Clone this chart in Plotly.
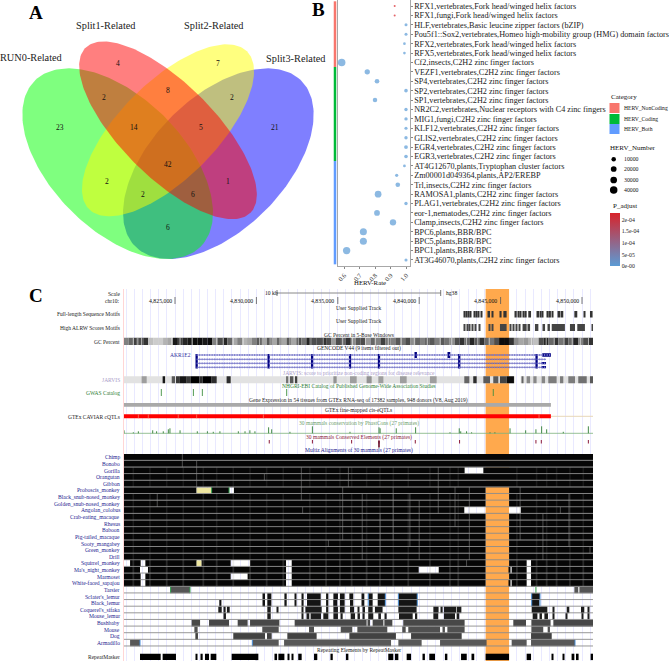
import numpy as np
import plotly.graph_objects as go

SERIF = "Liberation Serif"
W, H = 669, 661

# ---------- Panel A data ----------
VENN_SETS = ["RUN0-Related", "Split1-Related", "Split2-Related", "Split3-Related"]
VENN_COUNTS = [23, 4, 7, 21, 2, 8, 2, 14, 5, 2, 42, 1, 2, 6, 6]

# ---------- Panel B data ----------
MOTIFS = [
    "RFX1,vertebrates,Fork head/winged helix factors",
    "RFX1,fungi,Fork head/winged helix factors",
    "HLF,vertebrates,Basic leucine zipper factors (bZIP)",
    "Pou5f1::Sox2,vertebrates,Homeo high-mobility group (HMG) domain factors",
    "RFX2,vertebrates,Fork head/winged helix factors",
    "RFX5,vertebrates,Fork head/winged helix factors",
    "Cf2,insects,C2H2 zinc finger factors",
    "VEZF1,vertebrates,C2H2 zinc finger factors",
    "SP4,vertebrates,C2H2 zinc finger factors",
    "SP2,vertebrates,C2H2 zinc finger factors",
    "SP1,vertebrates,C2H2 zinc finger factors",
    "NR2C2,vertebrates,Nuclear receptors with C4 zinc fingers",
    "MIG1,fungi,C2H2 zinc finger factors",
    "KLF12,vertebrates,C2H2 zinc finger factors",
    "GLIS2,vertebrates,C2H2 zinc finger factors",
    "EGR4,vertebrates,C2H2 zinc finger factors",
    "EGR3,vertebrates,C2H2 zinc finger factors",
    "AT4G12670,plants,Tryptophan cluster factors",
    "Zm00001d049364,plants,AP2/EREBP",
    "Trl,insects,C2H2 zinc finger factors",
    "RAMOSA1,plants,C2H2 zinc finger factors",
    "PLAG1,vertebrates,C2H2 zinc finger factors",
    "eor-1,nematodes,C2H2 zinc finger factors",
    "Clamp,insects,C2H2 zinc finger factors",
    "BPC6,plants,BBR/BPC",
    "BPC5,plants,BBR/BPC",
    "BPC1,plants,BBR/BPC",
    "AT3G46070,plants,C2H2 zinc finger factors",
]
HERV_RATE = [0.927, 0.927, 1.0, 1.0, 0.99, 0.99, 0.585, 0.75, 0.813, 1.0, 0.80, 1.0, 1.0, 1.0,
             1.0, 1.0, 1.0, 0.99, 0.94, 0.947, 0.82, 1.0, 0.813, 0.916, 0.725, 0.725, 0.617, 1.0]
HERV_NUMBER = [300, 300, 2500, 2500, 1500, 1500, 40000, 16000, 11000, 5000, 10000, 4000, 4000, 3000,
               4000, 6000, 5000, 1800, 3000, 11000, 30000, 4000, 20000, 26000, 34000, 34000, 38000, 3000]
P_ADJUST = [2.3e-4, 2.3e-4] + [0.0] * 26
CATEGORY_CODE = [0] * 7 + [1] * 10 + [2] * 11
CATEGORY_NAMES = ["HERV_NonCoding", "HERV_Coding", "HERV_Both"]
CATEGORY_COLORS = ["#F8766D", "#00BA38", "#619CFF"]
SIZE_LEGEND = [10000, 20000, 30000, 40000]

# ---------- Panel C data (positions on chr10, in kb) ----------
GC_DARKNESS = [.5, .6, .75, .7, .8, .25, .2, .2, .3, .35, .9, .75, .85, .9, .95, .95, .9, .95, .5, .7, .85, .6,
               .35, .5, .3, .35, .5, .65, .35, .65, .35, .6, .35, .65, .35, .7, .55, .85, .7, .7, .8, .7, .4, .7,
               .6, .8, .45, .65, .7, .4, .6, .5, .75, .55, .5, .65, .55, .7, .45, .6, .5, .6, .65, .5, .65, .55,
               .45, .7, .8, .6, .85, .65, .8, .6, .55, .7, .95, .95, .8, .45, .35, .4, .3, .25, .7, .85, .6, .8,
               .55, .75, .6, .85, .5, .7, .8]
GC_LIGHT_LINES = [4822.44, 4822.68, 4822.95, 4824.8, 4825.31, 4826.05, 4827.56, 4827.97, 4828.58, 4829.19, 4830.2,
                  4830.84, 4831.45, 4832.06, 4832.57, 4833.3, 4834.1, 4835.3, 4835.9, 4836.7, 4837.3, 4838.1, 4838.9,
                  4839.7, 4840.5, 4841.3, 4842.0, 4842.9, 4843.6, 4844.3, 4846.9, 4847.8, 4848.3, 4848.9, 4849.4,
                  4849.9, 4850.4]
MOTIFS_FULL = [(4842.77, 4842.83), (4842.89, 4842.95), (4843.02, 4843.08), (4843.14, 4843.2), (4843.36, 4843.42),
               (4843.49, 4843.55), (4843.61, 4843.67), (4843.77, 4843.84), (4844.25, 4844.35), (4844.45, 4844.55),
               (4844.96, 4845.06), (4845.17, 4845.37), (4845.88, 4845.99), (4846.05, 4846.11), (4846.19, 4846.27),
               (4846.35, 4846.42), (4846.5, 4846.6), (4846.7, 4846.87), (4847.26, 4847.36), (4847.42, 4847.48),
               (4847.56, 4847.62), (4847.83, 4847.93), (4847.99, 4848.09), (4848.16, 4848.24), (4848.55, 4848.65),
               (4848.73, 4848.85), (4849.53, 4849.71), (4850.12, 4850.18), (4850.49, 4850.65)]
MOTIFS_ALRW = [(4842.77, 4842.83), (4842.91, 4842.97), (4843.06, 4843.12), (4843.22, 4843.28), (4843.43, 4843.49),
               (4843.67, 4843.75), (4844.27, 4844.35), (4844.45, 4844.55), (4844.96, 4845.37), (4845.58, 4845.64),
               (4845.74, 4845.82), (4845.95, 4846.03), (4846.13, 4846.19), (4846.35, 4846.6), (4846.7, 4846.81),
               (4847.11, 4847.32), (4847.62, 4847.73), (4847.93, 4848.03), (4848.14, 4848.95), (4849.26, 4849.57),
               (4849.71, 4850.18), (4850.59, 4850.65)]
EXONS_ALL = [4826.33, 4830.75, 4833.42, 4835.75, 4837.53, 4842.46, 4847.21]
EXONS_TOP_ONLY = [4839.80, 4841.85]
JARVIS_DARK = [(4822.95, 4823.26, .3), (4824.24, 4824.39, .9), (4824.8, 4825.0, .6), (4825.06, 4825.3, .75),
               (4825.3, 4825.72, .9), (4825.72, 4825.95, .75), (4825.95, 4826.5, 1.0), (4826.5, 4826.7, .8),
               (4826.7, 4827.25, 1.0), (4827.25, 4827.56, .8), (4828.17, 4828.42, .8), (4831.82, 4831.96, .5),
               (4832.06, 4832.27, .6), (4832.37, 4832.51, .7), (4834.73, 4834.93, .35), (4835.75, 4836.16, .3),
               (4836.77, 4837.08, .35), (4837.49, 4837.8, .3), (4838.82, 4839.23, .3), (4840.66, 4841.07, .3),
               (4842.77, 4843.08, .55), (4843.32, 4843.53, .8), (4843.94, 4844.35, .6), (4844.55, 4844.86, .6),
               (4844.96, 4845.37, .7), (4845.37, 4845.82, .95), (4846.29, 4846.4, .55), (4846.6, 4846.81, .4),
               (4847.01, 4847.21, .4), (4847.52, 4847.73, .4), (4847.93, 4848.44, .45), (4848.65, 4848.85, .45),
               (4849.16, 4849.57, .45), (4849.77, 4850.29, .5), (4850.49, 4850.7, .6)]
JARVIS_GAP = (4845.90, 4846.23)
GWAS_SITES = [4824.16, 4826.13, 4826.68, 4831.86, 4844.55]
CAVIAR_LIGHT = [4822.75, 4823.36, 4825.2, 4826.33, 4830.43, 4847.36]
GTEX_END = 4848.09
PHASTCONS_POS = [4821.87, 4822.44, 4822.75, 4823.63, 4823.87, 4824.28, 4824.59, 4824.69, 4825.31, 4826.37, 4826.99,
                 4827.35, 4827.76, 4828.89, 4829.3, 4829.6, 4829.91, 4830.75, 4830.94, 4832.06, 4833.44, 4835.75,
                 4837.53, 4837.6, 4838.59, 4839.78, 4841.89, 4842.46, 4842.55, 4842.91, 4843.22, 4844.35, 4844.65,
                 4845.58, 4846.54, 4847.17, 4847.52, 4847.83, 4848.85, 4850.39]
PHASTCONS_SCORE = [3, 1, 2, 3, 2, 2, 4, 5, 3, 2, 2, 1.5, 2, 2, 2, 3, 2, 6, 4, 1.5, 7, 1.5, 6, 5, 5, 6, 1, 5, 2, 2, 1,
                   1, 1, 5, 3, 4, 7, 4, 1.5, 7]
PHAST_ELEMENTS = [4830.79, 4833.44, 4835.85, 4837.53, 4839.76, 4842.48, 4847.17, 4847.50, 4850.39]

SPECIES = ["Chimp", "Bonobo", "Gorilla", "Orangutan", "Gibbon", "Proboscis_monkey", "Black_snub-nosed_monkey",
           "Golden_snub-nosed_monkey", "Angolan_colobus", "Crab-eating_macaque", "Rhesus", "Baboon",
           "Pig-tailed_macaque", "Sooty_mangabey", "Green_monkey", "Drill", "Squirrel_monkey", "Ma's_night_monkey",
           "Marmoset", "White-faced_sapajou", "Tarsier", "Sclater's_lemur", "Black_lemur", "Coquerel's_sifaka",
           "Mouse_lemur", "Bushbaby", "Mouse", "Dog", "Armadillo"]
HILITE = (4844.08, 4845.52)
GAPS_GORILLA = [(4842.79, 4843.94)]
GAPS_PROBOSCIS = [(4826.33, 4827.25), (4828.32, 4828.62)]
GAPS_ANGOLAN = [(4842.77, 4846.24)]
GAPS_SQUIRREL = [(4821.83, 4822.24), (4822.89, 4823.18), (4826.33, 4826.62), (4828.42, 4829.61), (4831.82, 4832.17),
                 (4846.6, 4846.87)]
GAPS_NIGHT = [(4822.85, 4823.34), (4831.82, 4832.17), (4839.97, 4841.2), (4845.58, 4845.68), (4846.6, 4846.87)]
GAPS_MARMOSET = [(4822.89, 4823.18), (4828.42, 4829.46), (4831.82, 4832.17), (4846.6, 4846.87)]
GAPS_SAPAJOU = [(4822.89, 4823.18), (4831.82, 4832.17), (4845.58, 4845.68), (4846.6, 4846.87)]
PALE_YELLOW_PROBOSCIS = [(4826.33, 4827.25)]
PALE_YELLOW_SQUIRREL = [(4826.33, 4826.62)]

ALIGN_TARSIER = [(4824.73, 4825.92), (4849.53, 4849.77), (4849.84, 4850.7)]
ALIGN_SCLATER = [(4830.41, 4830.53), (4830.67, 4830.92), (4831.72, 4831.86), (4832.37, 4832.43), (4832.82, 4832.9),
                 (4833.11, 4833.95), (4834.28, 4834.42), (4834.73, 4835.01), (4835.13, 4835.42), (4835.71, 4835.95),
                 (4836.51, 4836.63), (4836.87, 4837.14), (4837.45, 4837.92), (4838.72, 4839.88), (4846.91, 4847.42)]
ALIGN_BLACK = [(4827.72, 4827.85), (4830.41, 4830.53), (4830.67, 4830.92), (4831.72, 4831.86), (4832.37, 4832.43),
               (4832.82, 4832.9), (4833.11, 4833.95), (4834.28, 4834.42), (4834.72, 4834.97), (4835.13, 4835.42),
               (4835.75, 4835.95), (4836.51, 4836.63), (4836.92, 4837.14), (4837.45, 4837.9), (4838.72, 4839.88),
               (4846.91, 4847.38)]
ALIGN_COQUEREL = [(4827.66, 4827.87), (4827.99, 4828.11), (4828.19, 4828.36), (4830.67, 4830.88), (4831.24, 4831.35),
                  (4832.78, 4832.88), (4833.01, 4834.01), (4834.28, 4834.42), (4834.73, 4835.01), (4835.13, 4835.42),
                  (4835.75, 4836.0), (4836.22, 4836.32), (4836.57, 4836.67), (4836.87, 4837.14), (4837.28, 4837.75),
                  (4838.72, 4839.84), (4840.87, 4841.19), (4841.34, 4841.44), (4841.52, 4842.26), (4842.3, 4842.59),
                  (4846.91, 4847.87), (4848.24, 4848.3), (4849.06, 4849.22), (4849.94, 4850.14), (4850.35, 4850.45)]
ALIGN_MOUSE_LEMUR = [(4828.01, 4828.13), (4830.67, 4830.88), (4832.78, 4832.88), (4833.13, 4833.25), (4833.33, 4833.97),
                     (4834.11, 4834.42), (4834.73, 4835.01), (4835.18, 4835.3), (4835.79, 4836.06), (4836.26, 4836.36),
                     (4836.57, 4836.65), (4836.87, 4837.18), (4837.49, 4837.65), (4837.9, 4838.0), (4838.76, 4839.6),
                     (4839.74, 4839.88), (4840.87, 4841.17), (4841.52, 4842.2), (4842.3, 4842.46), (4846.97, 4847.26),
                     (4847.42, 4847.54), (4847.69, 4847.91), (4848.24, 4848.3), (4849.0, 4849.1), (4849.98, 4850.08),
                     (4850.35, 4850.45)]
ALIGN_BUSHBABY = [(4826.02, 4826.54), (4827.09, 4828.32), (4828.85, 4829.46), (4829.61, 4831.41), (4832.35, 4836.77),
                  (4836.87, 4836.98), (4837.14, 4837.8), (4837.86, 4838.35), (4839.02, 4842.79), (4845.78, 4846.56),
                  (4846.89, 4848.07), (4848.24, 4850.7)]
ALIGN_MOUSE = [(4826.19, 4826.39), (4830.36, 4831.37), (4833.23, 4833.54), (4835.18, 4835.89), (4836.2, 4838.04),
               (4838.96, 4839.17), (4839.33, 4841.28), (4841.48, 4841.58), (4841.73, 4842.79), (4846.89, 4847.62),
               (4847.89, 4848.03)]
ALIGN_DOG = [(4826.25, 4826.41), (4828.58, 4830.53), (4830.65, 4830.94), (4831.9, 4833.7), (4835.71, 4838.57),
             (4839.5, 4842.61), (4846.87, 4848.14)]
ALIGN_ARMADILLO = [(4822.24, 4822.85), (4829.75, 4831.37), (4831.7, 4838.27), (4838.72, 4840.15),
                   (4841.28, 4844.14), (4845.68, 4846.6), (4846.87, 4849.57)]
REPEATMASKER = [(4822.85, 4824.12), (4824.24, 4825.06), (4826.29, 4826.35), (4826.62, 4826.7), (4826.84, 4827.09),
                (4827.19, 4827.54), (4828.48, 4830.12), (4831.11, 4831.27), (4831.35, 4831.72), (4831.96, 4832.02),
                (4832.2, 4832.27), (4832.57, 4832.78), (4833.54, 4833.74), (4834.55, 4834.69), (4835.5, 4835.65),
                (4838.1, 4838.41), (4838.51, 4838.72), (4839.23, 4839.5), (4840.25, 4840.35),
                (4840.62, 4840.97), (4841.58, 4841.73), (4842.57, 4842.92), (4843.26, 4843.38), (4844.08, 4845.52),
                (4846.6, 4846.87), (4848.14, 4848.24), (4848.81, 4848.92), (4849.36, 4849.53), (4849.63, 4849.79),
                (4850.53, 4850.7)]
STREAK_POS = [4825.45, 4826.33, 4832.76, 4830.49, 4823.91, 4832.84, 4834.42, 4843.08, 4839.43, 4841.17, 4835.65,
              4848.67, 4850.49, 4842.91, 4835.3, 4836.5, 4837.6, 4838.4, 4840.0, 4842.2, 4846.2, 4847.6, 4849.2]
STREAK_FIRST = [0, 1, 2, 3, 6, 8, 13, 5, 6, 2, 2, 8, 14, 16, 5, 6, 9, 5, 7, 5, 5, 9, 6]
STREAK_LAST = [1, 5, 6, 3, 7, 8, 13, 15, 13, 8, 4, 8, 14, 16, 12, 15, 14, 12, 15, 10, 12, 15, 13]
TEXTURE_POS = [4822.44, 4823.46, 4824.49, 4825.51, 4826.74, 4827.56, 4828.58, 4829.61, 4830.63, 4831.65, 4833.28,
               4834.28, 4835.13, 4835.85, 4836.77, 4837.59, 4838.41, 4839.33, 4840.66, 4841.89, 4842.4, 4846.0,
               4847.21, 4847.83, 4848.44, 4849.26, 4850.08]
BLUE_EDGES_ARMADILLO = [4822.85, 4829.75, 4849.57]
BLUE_EDGES_LEMUR = [4836.87, 4837.92, 4838.72, 4839.88, 4846.91, 4847.42]
GREEN_EDGES_TARSIER = [4824.73, 4825.92, 4847.17]
GREEN_EDGES_PROBOSCIS = [4827.25, 4828.32]

# ---------- helpers ----------
ann = []


def px_text(x, y, text, size=6, color="#111", anchor="left", family=SERIF, bold=False):
    ann.append(dict(x=x, y=y, xref="x", yref="y", text=f"<b>{text}</b>" if bold else text, showarrow=False,
                    xanchor=anchor, yanchor="middle", xshift=0, yshift=0,
                    font=dict(family=family, size=size, color=color)))


fig = go.Figure()

# ---------- Panel A ----------
ELLIPSE_COLORS = ["rgba(0,0,255,0.5)", "rgba(0,255,0,0.5)", "rgba(255,255,0,0.5)", "rgba(255,0,0,0.5)"]
ELLIPSE_GEOM = [(655 / 3, 491 / 3, 352 / 3, 199 / 3, 45), (353 / 3, 491 / 3, 352 / 3, 199 / 3, -45),
                (504 / 3, 391 / 3, 335 / 3, 145 / 3, 45), (504 / 3, 391 / 3, 350 / 3, 140 / 3, -45)]
theta = np.linspace(0, 2 * np.pi, 200)
for col, (cx, cy, a, b, ang) in zip(ELLIPSE_COLORS, ELLIPSE_GEOM):
    r = np.radians(ang)
    ex = cx + a * np.cos(theta) * np.cos(r) + b * np.sin(theta) * np.sin(r)
    ey = cy - a * np.cos(theta) * np.sin(r) + b * np.sin(theta) * np.cos(r)
    fig.add_trace(go.Scatter(x=ex, y=ey, mode="lines", fill="toself", fillcolor=col, line=dict(width=0),
                             hoverinfo="skip", showlegend=False, xaxis="x", yaxis="y"))
VENN_LABEL_XY = [(181, 382), (353, 190), (655, 190), (825, 382), (313, 291), (504, 271), (695, 291), (403, 382),
                 (604, 382), (322, 543), (504, 493), (685, 543), (428, 583), (580, 583), (504, 683)]
for n, (zx, zy) in zip(VENN_COUNTS, VENN_LABEL_XY):
    px_text(zx / 3, zy / 3, str(n), size=7.5, anchor="center")
for t, (x, y) in zip(VENN_SETS, [(31, 57.5), (106, 25.5), (213.5, 25.5), (295.5, 58)]):
    px_text(x, y, t, size=10.3, anchor="center", color="#222")
px_text(36, 12, "A", size=19, anchor="center", bold=True, color="#000")
px_text(318, 9, "B", size=19, anchor="center", bold=True, color="#000")
px_text(36, 295, "C", size=19, anchor="center", bold=True, color="#000")

# ---------- Panel B ----------
row_idx = list(range(len(MOTIFS)))
diam = [1.5 + 6 * np.sqrt(n / 40000) for n in HERV_NUMBER]
PCOLORS = [[0, "#5B9BD5"], [1, "#D8232A"]]
fig.add_trace(go.Scatter(
    x=HERV_RATE, y=row_idx, mode="markers", xaxis="x2", yaxis="y2", hoverinfo="skip", showlegend=False,
    marker=dict(size=diam, color=P_ADJUST, colorscale=PCOLORS, cmin=0, cmax=2.3e-4, line=dict(width=0),
                colorbar=dict(thickness=10, thicknessmode="pixels", len=52.5, lenmode="pixels", x=609.5 / W,
                              xanchor="left", xpad=0, ypad=0, y=1 - 266 / H, yanchor="bottom", outlinewidth=0,
                              tickvals=[0, 5e-5, 1e-4, 1.5e-4, 2e-4],
                              ticktext=["0e-00", "5e-05", "1e-04", "1.5e-04", "2e-04"], ticks="",
                              tickfont=dict(family=SERIF, size=5.8, color="#222")))))
fig.add_trace(go.Heatmap(z=[[c] for c in CATEGORY_CODE], x=[0], y=row_idx, xaxis="x4", yaxis="y4", showscale=False,
                         zmin=0, zmax=2, hoverinfo="skip",
                         colorscale=[[0, CATEGORY_COLORS[0]], [0.33, CATEGORY_COLORS[0]], [0.33, CATEGORY_COLORS[1]],
                                     [0.67, CATEGORY_COLORS[1]], [0.67, CATEGORY_COLORS[2]], [1, CATEGORY_COLORS[2]]]))

px_text(608.5, 96.5, "Category", size=7)
for name, col, y in zip(CATEGORY_NAMES, CATEGORY_COLORS, [108, 119, 129]):
    fig.add_trace(go.Scatter(x=[614.5], y=[y], mode="markers", marker=dict(symbol="square", size=10, color=col),
                             hoverinfo="skip", showlegend=False, xaxis="x", yaxis="y"))
    px_text(622, y, name, size=5.6)
px_text(608, 148, "HERV_Number", size=7)
for n, y in zip(SIZE_LEGEND, [159.3, 169, 180, 190]):
    fig.add_trace(go.Scatter(x=[613.7], y=[y], mode="markers",
                             marker=dict(size=1.5 + 6 * np.sqrt(n / 40000), color="black"),
                             hoverinfo="skip", showlegend=False, xaxis="x", yaxis="y"))
    px_text(622, y, str(n), size=5.8)
px_text(610.5, 206, "P_adjust", size=7)
px_text(370, 282, "HERV-Rate", size=6.8, anchor="center")


# ---------- Panel C ----------
def hbars(iv, y, h, color):
    if not iv:
        return
    fig.add_trace(go.Bar(orientation="h", base=[s for s, e in iv], x=[e - s for s, e in iv], y=[y] * len(iv),
                         width=h, marker=dict(color=color, line=dict(width=0)), hoverinfo="skip", showlegend=False,
                         xaxis="x3", yaxis="y3"))


def vlines(xs, y0s, y1s, color, width=1):
    X, Y = [], []
    for x, a, b in zip(xs, y0s, y1s):
        X += [x, x, None]
        Y += [a, b, None]
    fig.add_trace(go.Scatter(x=X, y=Y, mode="lines", line=dict(color=color, width=width), hoverinfo="skip",
                             showlegend=False, xaxis="x3", yaxis="y3", connectgaps=False))


def hline(x0, x1, y, color, width=1, dash=None):
    fig.add_trace(go.Scatter(x=[x0, x1], y=[y, y], mode="lines", line=dict(color=color, width=width, dash=dash),
                             hoverinfo="skip", showlegend=False, xaxis="x3", yaxis="y3"))


KB0, KB1 = 4825 + (123.5 - 175) / 16.28, 4825 + (593 - 175) / 16.28
ROW_TOP, ROW_H = 454.0, 6.63
LINE_BLUE = "#2B2BA0"
NAVY = "#000080"

# highlight band first, so every track draws over it
hbars([HILITE], (289 + H) / 2, H - 289, "#FFA94D")
# motifs
hbars(MOTIFS_FULL, 314.3, 6.6, "#333333")
hbars(MOTIFS_ALRW, 327.5, 6.8, "#444444")
# GC percent strip
n_gc = len(GC_DARKNESS)
dgc = (KB1 - KB0) / n_gc
fig.add_trace(go.Bar(orientation="h", base=[KB0 + dgc * i for i in range(n_gc)], x=[dgc] * n_gc, y=[341.4] * n_gc,
                     width=7.4, hoverinfo="skip", showlegend=False, xaxis="x3", yaxis="y3",
                     marker=dict(line=dict(width=0), cmin=0, cmax=1, color=GC_DARKNESS,
                                 colorscale=[[0, "#FFFFFF"], [1, "#000000"]])))
vlines(GC_LIGHT_LINES, [337.7] * len(GC_LIGHT_LINES), [345.1] * len(GC_LIGHT_LINES), "rgba(235,235,235,0.75)", 0.9)
# gene
for y in [355, 359.3, 363.3, 367.3]:
    end = 4848.09 if y == 355 else 4847.79
    hline(4826.33, end, y, LINE_BLUE, 0.6)
    hline(4826.33, end, y, "#7C7CD0", 1.8, dash="1px,1.5px")
hbars([(x - .07, x + .07) for x in EXONS_ALL], 361.2, 14.5, NAVY)
hbars([(x - .06, x + .06) for x in EXONS_TOP_ONLY], 355, 6, NAVY)
hbars([(4847.56, 4848.09)], 355, 3.6, NAVY)
hbars([(4847.52, 4847.79)], 363.3, 1.8, NAVY)
hbars([(4847.52, 4847.79)], 367.3, 1.8, NAVY)
# JARVIS
hbars([(KB0, JARVIS_GAP[0]), (JARVIS_GAP[1], KB1)], 379.8, 7, "#E2E2E2")
for s, e, d in JARVIS_DARK:
    g = int(226 * (1 - d))
    hbars([(s, e)], 379.8, 7, f"rgb({g},{g},{g})")
# GWAS
vlines(GWAS_SITES, [389] * 5, [396] * 5, "#3E8E41", 0.9)
# GTEx
hbars([(KB0, GTEX_END)], 404.9, 3.8, "#A9A9A9")
hline(GTEX_END, KB1, 416.3, "#E8D8B8", 1)
hbars([(KB0, GTEX_END)], 416.3, 4, "#FF0000")
vlines(CAVIAR_LIGHT, [414.3] * 6, [418.3] * 6, "#F08A70", 0.7)
# PhastCons
hline(KB0, KB1, 433.3, "#7CB27C", 0.8)
vlines(PHASTCONS_POS, [433.3] * len(PHASTCONS_POS), [433.3 - s for s in PHASTCONS_SCORE], "#2E7D32", 0.9)
# PhastCons elements
vlines(PHAST_ELEMENTS, [440] * 9, [443.5] * 9, "#8B1A3A", 1)
vlines([4837.53], [441], [447.5], "#6A0F2A", 1.6)

# Multiz rows
ROW_GAPS = {2: GAPS_GORILLA, 5: GAPS_PROBOSCIS + [HILITE], 8: GAPS_ANGOLAN, 16: GAPS_SQUIRREL + [HILITE],
            17: GAPS_NIGHT + [HILITE], 18: GAPS_MARMOSET + [HILITE], 19: GAPS_SAPAJOU + [HILITE]}
for i in range(20):
    gaps = sorted(ROW_GAPS.get(i, [HILITE] if i >= 5 else []))
    segs, cur = [], KB0
    for s, e in gaps:
        if s > cur:
            segs.append((cur, s))
        cur = max(cur, e)
    segs.append((cur, KB1))
    hbars(segs, ROW_TOP + ROW_H * (i + .5), ROW_H, "#060606")
hbars(PALE_YELLOW_PROBOSCIS, ROW_TOP + ROW_H * 5.5, ROW_H - 1, "#EFE7A0")
hbars(PALE_YELLOW_SQUIRREL, ROW_TOP + ROW_H * 16.5, ROW_H - 1, "#EFE7A0")
LOWER = [(20, ALIGN_TARSIER, "#555555"), (21, ALIGN_SCLATER, "#141414"), (22, ALIGN_BLACK, "#141414"),
         (23, ALIGN_COQUEREL, "#1C1C1C"), (24, ALIGN_MOUSE_LEMUR, "#1C1C1C"), (25, ALIGN_BUSHBABY, "#484848"),
         (26, ALIGN_MOUSE, "#505050"), (27, ALIGN_DOG, "#424242"), (28, ALIGN_ARMADILLO, "#585858")]
for i, iv, col in LOWER:
    hbars(iv, ROW_TOP + ROW_H * (i + .5), ROW_H, col)
n_tex = len(TEXTURE_POS)
vlines(TEXTURE_POS, [ROW_TOP + ROW_H * 2] * n_tex, [ROW_TOP + ROW_H * 5] * n_tex, "rgba(170,170,170,0.12)", 1.6)
vlines(TEXTURE_POS, [ROW_TOP + ROW_H * 6] * n_tex, [ROW_TOP + ROW_H * 16] * n_tex, "rgba(170,170,170,0.14)", 1.6)
vlines(TEXTURE_POS, [ROW_TOP + ROW_H * 16] * n_tex, [ROW_TOP + ROW_H * 20] * n_tex, "rgba(170,170,170,0.22)", 1.8)
vlines(STREAK_POS, [ROW_TOP + ROW_H * a for a in STREAK_FIRST], [ROW_TOP + ROW_H * (b + 1) for b in STREAK_LAST],
       "rgba(170,170,170,0.55)", 0.8)
for xs, row, col in [(BLUE_EDGES_ARMADILLO, 28, "#4A90D9"), (BLUE_EDGES_LEMUR, 21, "#4A90D9"),
                     (BLUE_EDGES_LEMUR, 22, "#4A90D9"), (GREEN_EDGES_TARSIER, 20, "#2E9E4A"),
                     (GREEN_EDGES_PROBOSCIS, 5, "#2E9E4A")]:
    vlines(xs, [ROW_TOP + ROW_H * row] * len(xs), [ROW_TOP + ROW_H * (row + 1)] * len(xs), col, 1)
for i in range(29):
    hline(KB0, KB1, ROW_TOP + ROW_H * (i + 1) - 0.3, "#8C8C8C", 0.9)
hbars(REPEATMASKER, 656.9, 6.4, "#000000")

# Browser decorations
hline(4825 + (277 - 175) / 16.28, 4825 + (440.7 - 175) / 16.28, 293, "#888888", 1)
for t, x in zip(["4,825,000", "4,830,000", "4,835,000", "4,840,000", "4,845,000", "4,850,000"],
                [175, 256, 337.3, 419.3, 500.7, 582]):
    px_text(x - 1.5, 300.7, t, size=5.8, anchor="right")
vlines([4825, 4830, 4835, 4840, 4845, 4850], [297] * 6, [304] * 6, "#555555", 0.8)
vlines([4825 + (277 - 175) / 16.28, 4825 + (440.7 - 175) / 16.28], [290, 290], [296, 296], "#555555", 0.8)
px_text(263, 293, "10 kb", size=5.6)
px_text(443.5, 293, "hg38", size=5.6)
LEFT_LABELS = [("Scale", 293.5), ("chr10:", 300.7), ("Full-length Sequence Motifs", 314.3),
               ("High ALRW Scores Motifs", 328), ("GC Percent", 342), ("GTEx CAVIAR cQTLs", 417)]
for t, y in LEFT_LABELS:
    px_text(122, y, t, size=5.5, anchor="right", color="#222")
px_text(122, 379.7, "JARVIS", size=5.5, anchor="right", color="#A99CC8")
px_text(122, 393, "GWAS Catalog", size=5.5, anchor="right", color="#2E7D32")
px_text(193, 355, "AKR1E2", size=5.5, anchor="right", color=LINE_BLUE)
for i, s in enumerate(SPECIES):
    px_text(122, ROW_TOP + ROW_H * (i + .5), s, size=5.6, anchor="right", color="#24248F")
px_text(122, 657, "RepeatMasker", size=5.5, anchor="right", color="#222")
HEADERS = [("User Supplied Track", 358.5, 307.7, "#222"), ("User Supplied Track", 358.5, 321, "#222"),
           ("GC Percent in 5-Base Windows", 358.5, 334.7, "#222"),
           ("GENCODE V44 (9 items filtered out)", 358.5, 348, "#222"),
           ("JARVIS: score to prioritize non-coding regions for disease relevance", 358.5, 372.7, "#A99CC8"),
           ("NHGRI-EBI Catalog of Published Genome-Wide Association Studies", 358.5, 386.3, "#2E7D32"),
           ("Gene Expression in 54 tissues from GTEx RNA-seq of 17382 samples, 948 donors (V8, Aug 2019)", 358.5, 400,
            "#222"),
           ("GTEx fine-mapped cis-eQTLs", 358.5, 410, "#222"),
           ("30 mammals conservation by PhastCons (27 primates)", 358.5, 423.7, "#6DA06D"),
           ("30 mammals Conserved Elements (27 primates)", 358.5, 437.3, "#8B1A3A"),
           ("Multiz Alignments of 30 mammals (27 primates)", 358.5, 450.7, "#24248F"),
           ("Repeating Elements by RepeatMasker", 358.5, 650.3, "#222")]
for t, x, y, c in HEADERS:
    px_text(x, y, t, size=5.5, anchor="center", color=c)

# ---------- layout ----------
GRID = "#E9E9FF"
page = dict(range=[0, W], domain=[0, 1], visible=False, fixedrange=True)
fig.update_layout(
    width=W, height=H, margin=dict(l=0, r=0, t=0, b=0, autoexpand=False), autosize=False, paper_bgcolor="white",
    plot_bgcolor="rgba(0,0,0,0)", barmode="overlay", showlegend=False, annotations=ann,
    xaxis=dict(**page, anchor="y"),
    yaxis=dict(range=[H, 0], domain=[0, 1], visible=False, anchor="x"),
    xaxis2=dict(domain=[338 / W, 409.5 / W], range=[0.6 + (338 - 344) / 155, 0.6 + (409.5 - 344) / 155],
                anchor="y2", showline=True, mirror=True, linecolor="#A8A8A8", linewidth=1, showgrid=False,
                zeroline=False, tickvals=[0.6, 0.7, 0.8, 0.9, 1.0], ticktext=["0.6", "0.7", "0.8", "0.9", "1.0"],
                tickangle=-50, ticks="outside", ticklen=2, tickcolor="#888",
                tickfont=dict(family=SERIF, size=6.5, color="#333")),
    yaxis2=dict(domain=[1 - 266 / H, 1], range=[27.64, -0.64], anchor="x2", side="right", showline=True, mirror=True,
                linecolor="#A8A8A8", linewidth=1, showgrid=False, zeroline=False, tickvals=row_idx, ticktext=MOTIFS,
                ticks="outside", ticklen=2, tickcolor="#888", tickfont=dict(family=SERIF, size=8.2, color="#222")),
    xaxis4=dict(domain=[333.5 / W, 336.5 / W], visible=False, anchor="y4", range=[-0.5, 0.5]),
    yaxis4=dict(domain=[1 - 266 / H, 1], range=[27.64, -0.64], visible=False, anchor="x4"),
    xaxis3=dict(domain=[123.5 / W, 593 / W], range=[KB0, KB1], anchor="y3", showgrid=True, gridcolor=GRID,
                gridwidth=1, tick0=4825, dtick=0.5, tickmode="linear", showticklabels=False, ticks="",
                zeroline=False, showline=False),
    yaxis3=dict(domain=[0, 1 - 289 / H], range=[H, 289], anchor="x3", showgrid=False, zeroline=False,
                showticklabels=False, ticks="", showline=True, linecolor="#FFD6D6", linewidth=1),
)
fig.write_html("out.html", config=dict(displayModeBar=False),
               post_script="document.body.style.margin='0';document.body.style.overflow='hidden';")
